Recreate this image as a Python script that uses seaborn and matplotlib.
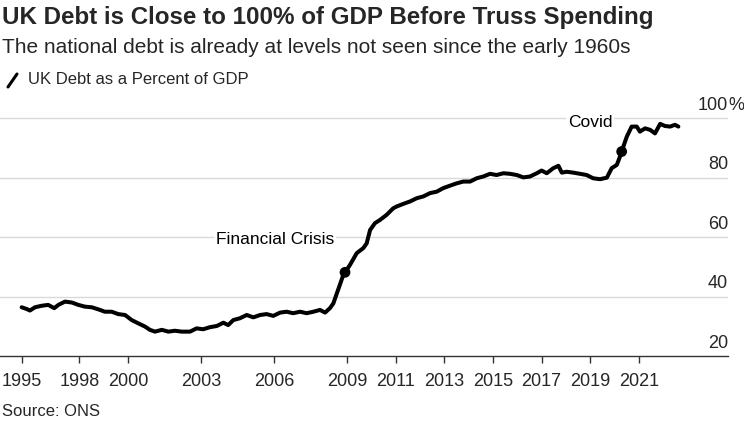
import numpy as np
import pandas as pd
import matplotlib
matplotlib.use("Agg")
import matplotlib.pyplot as plt
import matplotlib.transforms as mtransforms
import seaborn as sns

# UK public sector net debt, % of GDP
years = [1995.63, 1995.84, 1995.97, 1996.18, 1996.45, 1996.72, 1996.97, 1997.14, 1997.41, 1997.69,
         1997.96, 1998.23, 1998.51, 1998.78, 1999.05, 1999.33, 1999.60, 1999.88, 2000.15, 2000.42,
         2000.70, 2000.90, 2001.11, 2001.39, 2001.66, 2001.93, 2002.21, 2002.55, 2002.82, 2003.09,
         2003.37, 2003.65, 2003.92, 2004.12, 2004.33, 2004.60, 2004.88, 2005.15, 2005.43, 2005.70,
         2005.97, 2006.25, 2006.52, 2006.79, 2007.07, 2007.34, 2007.62, 2007.89, 2008.10, 2008.30,
         2008.44, 2008.58, 2008.71, 2008.85, 2009.12, 2009.40, 2009.67, 2009.81, 2009.95, 2010.15,
         2010.36, 2010.63, 2010.90, 2011.04, 2011.32, 2011.59, 2011.87, 2012.14, 2012.41, 2012.69,
         2012.96, 2013.23, 2013.51, 2013.78, 2014.06, 2014.33, 2014.60, 2014.88, 2015.15, 2015.43,
         2015.70, 2015.98, 2016.25, 2016.52, 2016.80, 2017.00, 2017.21, 2017.48, 2017.69, 2017.83,
         2018.03, 2018.30, 2018.58, 2018.85, 2019.12, 2019.40, 2019.68, 2019.88, 2020.09, 2020.22,
         2020.36, 2020.50, 2020.70, 2020.91, 2021.04, 2021.25, 2021.46, 2021.66, 2021.87, 2022.07,
         2022.28, 2022.48, 2022.62]
debt = [36.4, 35.8, 35.3, 36.4, 36.9, 37.2, 36.1, 37.2, 38.3, 38.0,
        37.2, 36.6, 36.4, 35.7, 34.9, 34.9, 34.1, 33.8, 32.1, 31.0,
        29.9, 28.8, 28.2, 28.8, 28.2, 28.5, 28.2, 28.2, 29.3, 29.0,
        29.7, 30.1, 31.2, 30.4, 32.1, 32.7, 33.8, 33.0, 33.8, 34.1,
        33.5, 34.6, 34.9, 34.4, 34.9, 34.4, 34.9, 35.5, 34.6, 36.1,
        37.7, 41.0, 44.0, 47.3, 50.6, 54.6, 56.3, 57.9, 62.4, 64.7,
        65.8, 67.5, 69.7, 70.3, 71.2, 72.0, 73.1, 73.7, 74.8, 75.3,
        76.5, 77.3, 78.1, 78.7, 78.7, 79.8, 80.4, 81.3, 80.9, 81.5,
        81.3, 80.9, 80.1, 80.4, 81.5, 82.4, 81.5, 83.2, 84.0, 81.7,
        82.0, 81.7, 81.3, 80.9, 79.8, 79.5, 80.0, 83.2, 84.3, 87.1,
        90.5, 93.8, 97.2, 97.2, 95.5, 96.6, 96.1, 94.9, 98.1, 97.4,
        97.2, 97.8, 97.2]

events = ["Financial Crisis", "Covid"]
event_years = [2008.92, 2020.29]
event_label_x = [2006.04, 2018.99]
event_label_y = [59.2, 98.6]

tick_years = [1995.63, 1998, 2000, 2003, 2006, 2009, 2011, 2013, 2015, 2017, 2019, 2021]
tick_labels = ["1995", "1998", "2000", "2003", "2006", "2009", "2011", "2013", "2015", "2017", "2019", "2021"]
y_ticks = [20, 40, 60, 80, 100]

df = pd.DataFrame({"year": years, "debt": debt})

sns.set_theme(style="white")
plt.rcParams["font.family"] = ["Liberation Sans", "DejaVu Sans"]

fig = plt.figure(figsize=(7.44, 4.21), dpi=100)
ax = fig.add_axes([0, 0.1544, 0.9785, 0.600])

sns.lineplot(data=df, x="year", y="debt", color="black", linewidth=2.9, ax=ax, zorder=3)

# event markers sit on the line
ev_vals = np.interp(event_years, years, debt)
sns.scatterplot(x=event_years, y=ev_vals, color="black", s=60, ax=ax, zorder=4, edgecolor="none")
for name, lx, ly in zip(events, event_label_x, event_label_y):
    ax.text(lx, ly, name, ha="center", va="center", fontsize=12.5, color="black", zorder=2,
            bbox=dict(facecolor="white", edgecolor="none", pad=1.5))

ax.set_xlim(1994.74, 2024.66)
ax.set_ylim(20, 105)

# gridlines
for v in y_ticks[1:]:
    ax.axhline(v, color="#d9d9d9", linewidth=1.0, zorder=1)

# y labels sit on top of gridlines at the right
trans = mtransforms.blended_transform_factory(ax.transAxes, ax.transData)
for v in y_ticks:
    ax.text(1.0, v + 1.5, str(v), transform=trans, ha="right", va="bottom", fontsize=13)
ax.text(1.0, y_ticks[-1] + 1.5, "%", transform=trans, ha="left", va="bottom", fontsize=13)

ax.set_yticks([])
ax.set_xticks(tick_years)
ax.set_xticklabels(tick_labels, fontsize=13)
ax.tick_params(axis="x", length=5, width=1, color="#333333", pad=7, bottom=True)
ax.set_xlabel("")
ax.set_ylabel("")

for s in ["top", "right", "left"]:
    ax.spines[s].set_visible(False)
ax.spines["bottom"].set_color("#333333")
ax.spines["bottom"].set_linewidth(1.0)

# headings
fig.text(0.003, 1 - 6 / 421, "UK Debt is Close to 100% of GDP Before Truss Spending",
         fontsize=17.4, fontweight="bold", ha="left", va="top")
fig.text(0.003, 1 - 38 / 421, "The national debt is already at levels not seen since the early 1960s",
         fontsize=15, ha="left", va="top")
fig.lines.append(plt.Line2D([8 / 744, 17 / 744], [1 - 87 / 421, 1 - 74 / 421],
                            transform=fig.transFigure, color="black", linewidth=2.2))
fig.text(28 / 744, 1 - 80 / 421, "UK Debt as a Percent of GDP", fontsize=12, ha="left", va="center")
fig.text(0.003, 1 - 411 / 421, "Source: ONS", fontsize=12, ha="left", va="center")

fig.savefig("out.png", dpi=100)
